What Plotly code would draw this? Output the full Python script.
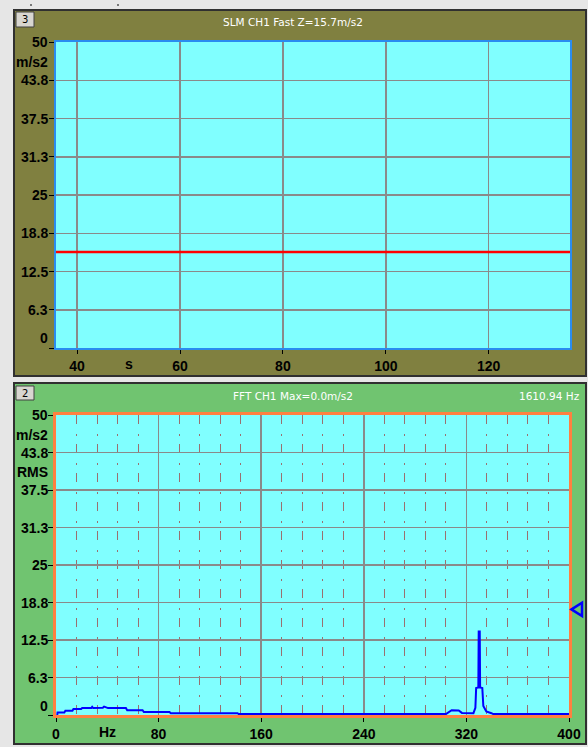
import plotly.graph_objects as go

# ---------------- data ----------------
slm_time = [35.9, 40, 60, 80, 100, 120, 135.8]
slm_level = [15.7, 15.7, 15.7, 15.7, 15.7, 15.7, 15.7]

fft_freq = [1.0, 1.2, 6.5, 7.3, 12.8, 13.6, 19.6, 20.4, 27.5, 28.2, 29.0, 36.5, 37.5, 39.0,
            40.6, 54.5, 55.5, 67.5, 68.5, 88.5, 89.5, 141.5, 142.5, 304.0, 306.0, 308.5,
            314.0, 316.5, 325.5, 327.0, 327.6, 329.3, 329.6, 330.4, 330.7, 332.4, 333.2,
            335.5, 339.5, 341.0, 400.0]
fft_amp = [0.0, 0.4, 0.4, 0.7, 0.7, 1.0, 1.0, 1.15, 1.15, 1.35, 1.15, 1.2, 1.4, 1.3,
           1.15, 1.15, 0.8, 0.8, 0.5, 0.5, 0.3, 0.3, 0.15, 0.15, 0.5, 0.8,
           0.75, 0.35, 0.3, 1.2, 4.5, 4.6, 13.9, 13.9, 4.6, 4.5, 1.5,
           0.6, 0.3, 0.15, 0.15]

y_tick_vals = [0, 6.25, 12.5, 18.75, 25, 31.25, 37.5, 43.75, 50]
y_tick_text = ["0", "6.3", "12.5", "18.8", "25", "31.3", "37.5", "43.8", "50"]
slm_x_ticks = [40, 60, 80, 100, 120]
fft_x_ticks = [0, 80, 160, 240, 320, 400]
marker_level = 17.6

# ---------------- geometry helpers ----------------
W, H = 588, 747
def px(x):
    return x / W
def py(y):
    return 1 - y / H

LBL = dict(family="Liberation Sans, Arial, sans-serif", size=14, color="black", weight="bold")
TTL = dict(family="DejaVu Sans, Tahoma, sans-serif", size=10.5, color="white")

fig = go.Figure()
fig.add_trace(go.Scatter(x=slm_time, y=slm_level, mode="lines",
                         line=dict(color="#FF0000", width=2.5),
                         xaxis="x", yaxis="y", showlegend=False, hoverinfo="skip"))
fig.add_trace(go.Scatter(x=fft_freq, y=fft_amp, mode="lines",
                         line=dict(color="#0000FF", width=2),
                         xaxis="x2", yaxis="y2", showlegend=False, hoverinfo="skip",
                         cliponaxis=True))

grid = "#8A8A8A"
common = dict(automargin=False, zeroline=False, fixedrange=True,
              ticks="outside", tickcolor="black", tickwidth=1, showgrid=True,
              gridcolor=grid, gridwidth=1.5, showline=True, mirror=True)
fig.update_layout(
    width=W, height=H, autosize=False,
    margin=dict(l=0, r=0, t=0, b=0, pad=0),
    paper_bgcolor="#E6E6E6",
    plot_bgcolor="#80FFFF",
    hovermode=False,
    xaxis=dict(domain=[px(56), px(570)], range=[35.9, 135.8], anchor="y",
               tickmode="array", tickvals=slm_x_ticks, ticktext=[str(v) for v in slm_x_ticks],
               ticklen=4, tickfont=LBL, linecolor="#2A8CF0", linewidth=2, **common),
    yaxis=dict(domain=[py(348), py(42)], range=[0, 50], anchor="x",
               tickmode="array", tickvals=y_tick_vals, showticklabels=False,
               ticklen=5, linecolor="#2A8CF0", linewidth=2, **common),
    xaxis2=dict(domain=[px(56), px(569)], range=[0, 400], anchor="y2",
                tickmode="array", tickvals=fft_x_ticks, ticktext=[str(v) for v in fft_x_ticks],
                ticklen=4, tickfont=LBL,
                minor=dict(dtick=16, tick0=0, showgrid=True, gridcolor="#9A7070",
                           griddash="9px,10px,2px,8px", gridwidth=1, ticks=""),
                linecolor="#FF8040", linewidth=3, **common),
    yaxis2=dict(domain=[py(715), py(415)], range=[0, 50], anchor="x2",
                tickmode="array", tickvals=y_tick_vals, showticklabels=False,
                ticklen=5, linecolor="#FF8040", linewidth=3, **common),
)

shapes = []
# window strip marks
shapes.append(dict(type="rect", xref="paper", yref="paper", x0=px(30), x1=px(32), y0=py(6), y1=py(4),
                   fillcolor="#777777", line=dict(width=0), layer="below"))
shapes.append(dict(type="rect", xref="paper", yref="paper", x0=px(117), x1=px(119), y0=py(6), y1=py(4),
                   fillcolor="#777777", line=dict(width=0), layer="below"))
# panels
shapes.append(dict(type="rect", xref="paper", yref="paper", x0=px(14), x1=px(586), y0=py(376), y1=py(10),
                   fillcolor="#808040", line=dict(color="#303030", width=2), layer="below"))
shapes.append(dict(type="rect", xref="paper", yref="paper", x0=px(14), x1=px(586), y0=py(744), y1=py(383),
                   fillcolor="#70C470", line=dict(color="#303030", width=2), layer="below"))
# plot backgrounds
for xr, yr in (("x domain", "y domain"), ("x2 domain", "y2 domain")):
    shapes.append(dict(type="rect", xref=xr, yref=yr, x0=0, x1=1, y0=0, y1=1,
                       fillcolor="#80FFFF", line=dict(width=0), layer="below"))
# number boxes
shapes.append(dict(type="rect", xref="paper", yref="paper", x0=px(16), x1=px(34), y0=py(27), y1=py(12),
                   fillcolor="#D8D6D0", line=dict(color="#404040", width=1), layer="above"))
shapes.append(dict(type="rect", xref="paper", yref="paper", x0=px(16), x1=px(34), y0=py(400), y1=py(386),
                   fillcolor="#D8D6D0", line=dict(color="#404040", width=1), layer="above"))
# level marker triangle
shapes.append(dict(type="path", xref="paper", yref="y2",
                   path=f"M {px(571.5)},{marker_level} L {px(582)},{marker_level + 1.1} L {px(582)},{marker_level - 1.1} Z",
                   line=dict(color="#0000FF", width=2.5), fillcolor="rgba(0,0,0,0)", layer="above"))
fig.update_layout(shapes=shapes)

ann = []
for yref, zshift in (("y", 10), ("y2", 9)):
    for v, t in zip(y_tick_vals, y_tick_text):
        ann.append(dict(x=px(50), xref="paper", y=v, yref=yref, text=t, showarrow=False,
                        xanchor="right", yanchor="middle", font=LBL,
                        yshift=zshift if v == 0 else 0))
ann.append(dict(x=px(50), xref="paper", y=46.8, yref="y", text="m/s2", showarrow=False,
                xanchor="right", yanchor="middle", font=LBL))
ann.append(dict(x=px(50), xref="paper", y=46.7, yref="y2", text="m/s2", showarrow=False,
                xanchor="right", yanchor="middle", font=LBL))
ann.append(dict(x=px(50), xref="paper", y=40.5, yref="y2", text="RMS", showarrow=False,
                xanchor="right", yanchor="middle", font=LBL))
# axis unit labels
ann.append(dict(x=50, xref="x", y=py(364), yref="paper", text="s", showarrow=False,
                xanchor="center", yanchor="middle", font=LBL))
ann.append(dict(x=40, xref="x2", y=py(732), yref="paper", text="Hz", showarrow=False,
                xanchor="center", yanchor="middle", font=LBL))
# titles
ann.append(dict(x=px(293), xref="paper", y=py(22), yref="paper", text="SLM CH1 Fast Z=15.7m/s2",
                showarrow=False, xanchor="center", yanchor="middle", font=TTL))
ann.append(dict(x=px(293), xref="paper", y=py(396), yref="paper", text="FFT CH1 Max=0.0m/s2",
                showarrow=False, xanchor="center", yanchor="middle", font=TTL))
ann.append(dict(x=px(582), xref="paper", y=py(396), yref="paper", text="1610.94 Hz",
                showarrow=False, xanchor="right", yanchor="middle", font=TTL))
# box numbers
ann.append(dict(x=px(25), xref="paper", y=py(19.5), yref="paper", text="3", showarrow=False,
                xanchor="center", yanchor="middle",
                font=dict(family="DejaVu Sans, sans-serif", size=10, color="black")))
ann.append(dict(x=px(25), xref="paper", y=py(393), yref="paper", text="2", showarrow=False,
                xanchor="center", yanchor="middle",
                font=dict(family="DejaVu Sans, sans-serif", size=10, color="black")))
fig.update_layout(annotations=ann)

fig.write_html("out.html",
               config={"responsive": False, "displayModeBar": False, "staticPlot": True},
               post_script="document.body.style.margin='0';document.body.style.overflow='hidden';")
